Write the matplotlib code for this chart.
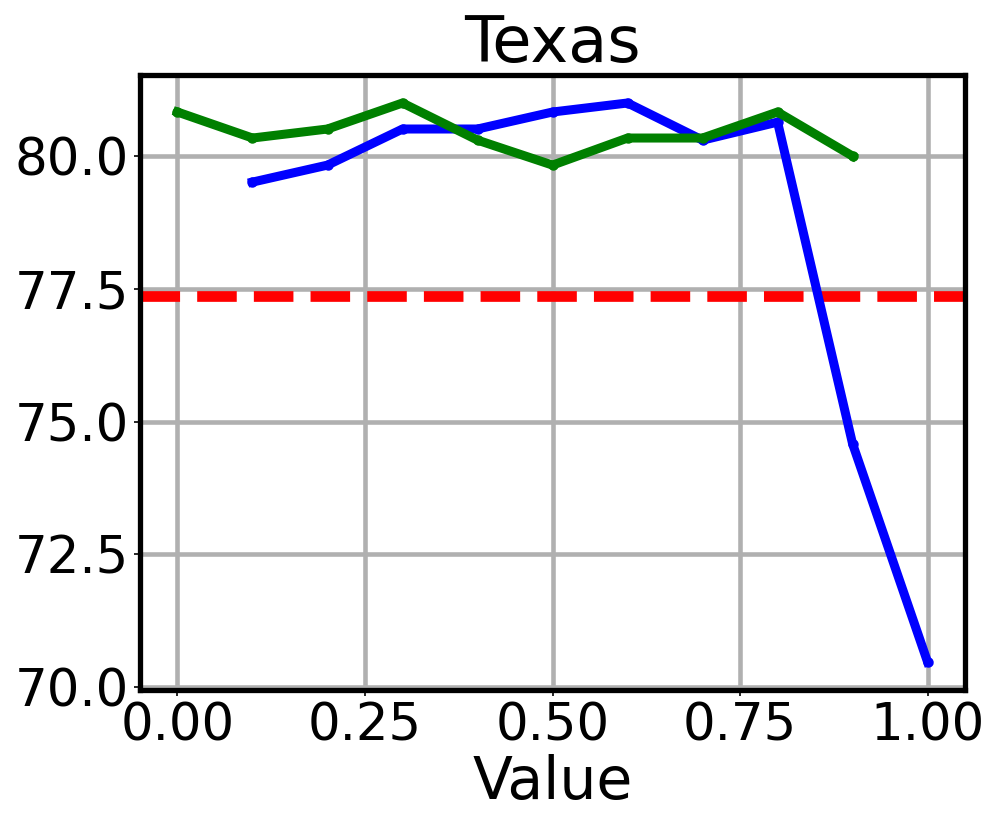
import matplotlib
matplotlib.use("Agg")
import matplotlib.pyplot as plt

x_blue = [0.1, 0.2, 0.3, 0.4, 0.5, 0.6, 0.7, 0.8, 0.9, 1.0]
y_blue = [79.51, 79.83, 80.51, 80.51, 80.83, 81.0, 80.3, 80.64, 74.58, 70.47]
x_green = [0.0, 0.1, 0.2, 0.3, 0.4, 0.5, 0.6, 0.7, 0.8, 0.9]
y_green = [80.83, 80.34, 80.51, 81.0, 80.3, 79.83, 80.34, 80.34, 80.83, 80.0]
ref_value = 77.37
title = "Texas"
xlabel = "Value"

fig = plt.figure(figsize=(9.97, 8.31), dpi=100)
ax = fig.add_axes([0.1404, 0.1697, 0.8276, 0.74])

ax.plot(x_blue, y_blue, color="blue", lw=6.5, marker="o", markersize=6.5, zorder=3)
ax.plot(x_green, y_green, color="green", lw=6.5, marker="o", markersize=6.5, zorder=3)
ax.axhline(ref_value, color="red", lw=7.7, ls="--", zorder=2)

ax.set_xticks([0.0, 0.25, 0.5, 0.75, 1.0])
ax.set_yticks([70.0, 72.5, 75.0, 77.5, 80.0])
ax.xaxis.set_major_formatter(matplotlib.ticker.FormatStrFormatter("%.2f"))
ax.yaxis.set_major_formatter(matplotlib.ticker.FormatStrFormatter("%.1f"))
ax.grid(True, color="#b0b0b0", lw=3.3, zorder=0)
ax.set_axisbelow(True)
for s in ax.spines.values():
    s.set_linewidth(3.8)
    s.set_color("black")
ax.tick_params(labelsize=37, length=4, width=1.2, pad=4)
ax.set_title(title, fontsize=46, pad=8)
ax.set_xlabel(xlabel, fontsize=42, labelpad=2)

fig.savefig("out.png", dpi=100)
